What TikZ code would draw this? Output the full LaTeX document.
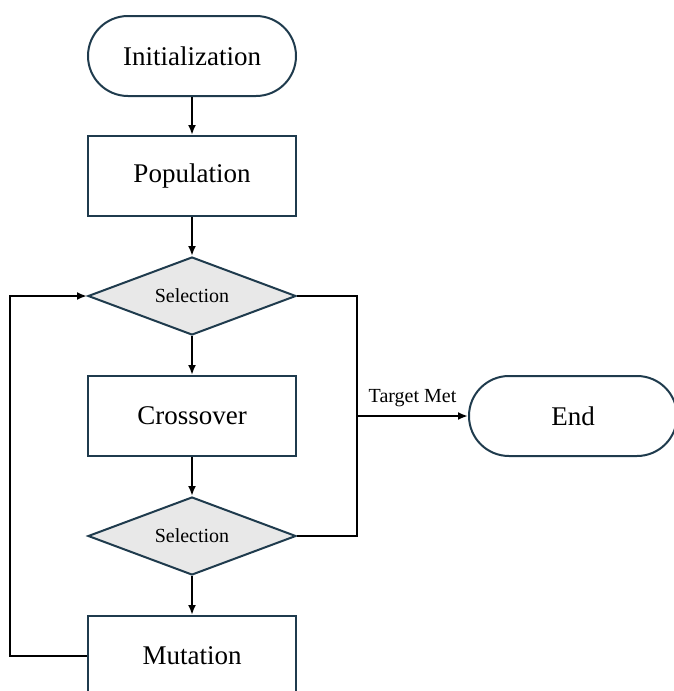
\documentclass[tikz,border=0pt]{standalone}
\usepackage{fontspec}
\setmainfont{Liberation Serif}
\usetikzlibrary{positioning,shapes.geometric,arrows.meta}
\definecolor{boxline}{HTML}{1F3B4D}
\definecolor{decfill}{HTML}{E8E8E8}
\begin{document}
\begin{tikzpicture}[
        on grid, node distance=60pt,
        base/.style={draw=boxline, line width=1pt, minimum width=104pt, minimum height=40pt,
                     font=\fontsize{13.5}{16}\selectfont},
        terminal/.style={base, rounded corners=20pt},
        process/.style={base},
        decision/.style={base, diamond, aspect=2.6, fill=decfill, inner sep=0pt,
                         minimum height=39pt, font=\fontsize{10}{12}\selectfont},
        line/.style={line width=1pt, black},
        arrow/.style={line, -{Latex[length=5pt,width=4pt]}}
    ]
    \useasboundingbox (0,0) rectangle (337pt,-345.5pt);

    \node[terminal] (init) at (96pt,-28pt) {Initialization};
    \node[process, below=of init] (pop) {Population};
    \node[decision, below=of pop] (sel1) {Selection};
    \node[process, below=of sel1] (cross) {Crossover};
    \node[decision, below=of cross] (sel2) {Selection};
    \node[process, below=of sel2] (mut) {Mutation};
    \node[terminal, right=190.5pt of cross] (stop) {End};

    \coordinate[right=30pt of cross.east] (join);
    \coordinate[left=38.5pt of mut.west] (back);

    \draw[arrow] (init) -- (pop);
    \draw[arrow] (pop) -- (sel1);
    \draw[arrow] (sel1) -- (cross);
    \draw[arrow] (cross) -- (sel2);
    \draw[arrow] (sel2) -- (mut);

    % exits to the end node
    \draw[line] (sel1.east) -| (join) |- (sel2.east);
    \draw[arrow] (join) -- node[above=1pt, font=\fontsize{10}{12}\selectfont] {Target Met} (stop);

    % loop back
    \draw[arrow] (mut.west) -- (back) |- (sel1.west);
\end{tikzpicture}
\end{document}
